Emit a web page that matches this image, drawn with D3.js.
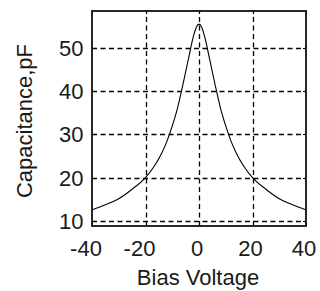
<!DOCTYPE html>
<html><head><meta charset="utf-8">
<script src="https://cdn.jsdelivr.net/npm/d3@7"></script>
<style>body{margin:0;background:#fff}svg{display:block}</style>
</head><body>
<script>
const voltage = [-40,-35,-30,-25,-20,-17,-14,-12,-10,-8,-6,-4,-2,-1,0,1,2,4,6,8,10,12,14,17,20,25,30,35,40];
const capacitance = [12.5,13.7,15.1,17.3,20.0,22.4,25.6,28.4,32.0,36.2,41.6,47.4,53.0,54.9,55.6,54.9,53.0,47.4,41.6,36.2,32.0,28.4,25.6,22.4,20.0,17.3,15.1,13.7,12.5];
const xTicks = [-40,-20,0,20,40];
const yTicks = [10,20,30,40,50];
const xTitle = "Bias Voltage";
const yTitle = "Capacitance,pF";

const W = 320, H = 291;
const L = 92, R = 306, T = 11, B = 226;
const svg = d3.select("body").append("svg").attr("width", W).attr("height", H);
svg.append("rect").attr("width", W).attr("height", H).attr("fill", "#fff");

const x = d3.scaleLinear().domain([-40, 40]).range([L, R]);
const y = d3.scaleLinear().domain([8.77, 58.65]).range([B, T]);
const font = "'Liberation Sans', Arial, sans-serif";
const fs = 22;
const txt = "#1a1a1a";

// grid
const g = svg.append("g");
g.selectAll(".hg").data(yTicks).enter().append("line")
  .attr("x1", L).attr("x2", R)
  .attr("y1", d => Math.round(y(d)) + 0.5).attr("y2", d => Math.round(y(d)) + 0.5)
  .attr("stroke", "#000").attr("stroke-width", 1.3).attr("stroke-dasharray", "5,3.5");
g.selectAll(".vg").data(xTicks.filter(d => d > -40 && d < 40)).enter().append("line")
  .attr("y1", B).attr("y2", T)
  .attr("x1", d => Math.round(x(d)) + 0.5).attr("x2", d => Math.round(x(d)) + 0.5)
  .attr("stroke", "#000").attr("stroke-width", 1.3).attr("stroke-dasharray", "5,3.5");

// inward ticks
const tl = 3;
xTicks.forEach(d => {
  const px = Math.round(x(d)) + 0.5;
  svg.append("line").attr("x1", px).attr("x2", px).attr("y1", B).attr("y2", B - tl).attr("stroke", "#000");
  svg.append("line").attr("x1", px).attr("x2", px).attr("y1", T).attr("y2", T + tl).attr("stroke", "#000");
});
yTicks.forEach(d => {
  const py = Math.round(y(d)) + 0.5;
  svg.append("line").attr("y1", py).attr("y2", py).attr("x1", L).attr("x2", L + tl).attr("stroke", "#000");
  svg.append("line").attr("y1", py).attr("y2", py).attr("x1", R).attr("x2", R - tl).attr("stroke", "#000");
});

// curve
const line = d3.line().x((d, i) => x(voltage[i])).y(d => y(d)).curve(d3.curveMonotoneX);
svg.append("path").datum(capacitance).attr("d", line)
  .attr("fill", "none").attr("stroke", "#000").attr("stroke-width", 1.1);

// box
svg.append("rect").attr("x", L).attr("y", T).attr("width", R - L).attr("height", B - T)
  .attr("fill", "none").attr("stroke", "#111").attr("stroke-width", 1.8);

// tick labels
svg.selectAll(".xl").data(xTicks).enter().append("text")
  .attr("x", d => x(d) - (d < 0 ? 6 : 2)).attr("y", 256)
  .attr("text-anchor", "middle").attr("font-family", font).attr("font-size", fs)
  .attr("fill", txt).text(d => d < 0 ? "-" + Math.abs(d) : String(d));
svg.selectAll(".yl").data(yTicks).enter().append("text")
  .attr("x", 83.5).attr("y", d => y(d) + 8)
  .attr("text-anchor", "end").attr("font-family", font).attr("font-size", fs)
  .attr("fill", txt).text(d => d);

// titles
svg.append("text").attr("x", 198).attr("y", 285).attr("text-anchor", "middle")
  .attr("font-family", font).attr("font-size", fs).attr("fill", txt).text(xTitle);
svg.append("text").attr("transform", "translate(31.5,121) rotate(-90)").attr("text-anchor", "middle")
  .attr("font-family", font).attr("font-size", fs).attr("fill", txt).text(yTitle);
</script>
</body></html>
